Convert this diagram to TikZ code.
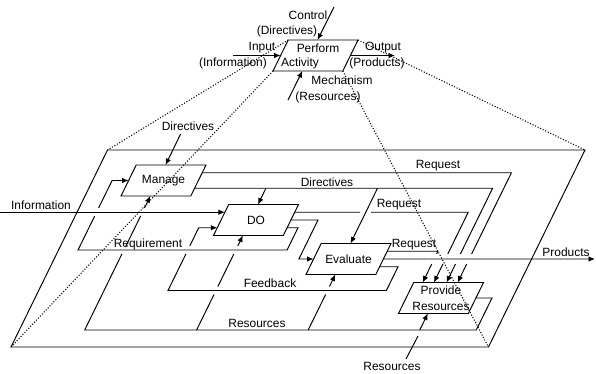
\documentclass[tikz,border=0pt]{standalone}
\usepackage{fontspec}
\setmainfont{Liberation Sans}
\usetikzlibrary{arrows.meta, calc}

% slanted activity box: name, x, y, width, height, text
\newcommand{\actbox}[6]{%
  \node[inner sep=0pt, align=center] (#1) at (#2,#3) {#6};
  \coordinate (#1-tl) at ({#2-#4/2+0.49*#5},{#3-#5/2});
  \coordinate (#1-tr) at ({#2+#4/2},{#3-#5/2});
  \coordinate (#1-br) at ({#2+#4/2-0.49*#5},{#3+#5/2});
  \coordinate (#1-bl) at ({#2-#4/2},{#3+#5/2});
  \draw (#1-tl) -- (#1-tr) -- (#1-br) -- (#1-bl) -- cycle;
}

\begin{document}
\begin{tikzpicture}[
    x=0.02cm, y=-0.02cm,
    font=\fontsize{6.8}{8}\selectfont,
    line width=0.55pt,
    lbl/.style={inner sep=0pt},
    arr/.style={-{Latex[length=1.3mm, width=1.1mm]}},
    dots/.style={densely dotted, line width=0.6pt}
  ]
  \useasboundingbox (0,0) rectangle (596,373);

  % the activity on top and the frame it opens into
  \actbox{perform}{315.5}{55.5}{85}{31}{}
  \actbox{frame}{298}{248.5}{574}{197}{}

  % the four activities
  \actbox{manage}{163.5}{180.5}{85}{31}{Manage}
  \actbox{do}{256}{220}{85}{31}{DO}
  \actbox{evaluate}{348.5}{259}{85}{31}{Evaluate}
  \actbox{provide}{441}{298}{85}{31}{Provide\\[1pt]Resources}

  % ports on the sides of the boxes
  \foreach \n in {perform, manage, do, evaluate, provide} {
    \coordinate (\n-t) at ($(\n-tl)!.42!(\n-tr)$);
    \coordinate (\n-b) at ($(\n-bl)!.42!(\n-br)$);
    \coordinate (\n-l1) at ($(\n-tl)!.25!(\n-bl)$);
    \coordinate (\n-l2) at ($(\n-tl)!.5!(\n-bl)$);
    \coordinate (\n-l3) at ($(\n-tl)!.75!(\n-bl)$);
    \coordinate (\n-r1) at ($(\n-tr)!.25!(\n-br)$);
    \coordinate (\n-r2) at ($(\n-tr)!.5!(\n-br)$);
    \coordinate (\n-r3) at ($(\n-tr)!.75!(\n-br)$);
  }
  \foreach \f [count=\i] in {.13, .29, .47, .63}
    \coordinate (provide-in\i) at ($(provide-tl)!\f!(provide-tr)$);

  % top activity
  \node[lbl] (lperform) at (318,48) {Perform};
  \node[lbl] (lactivity) at (300,63) {Activity};
  \node[lbl] (lcontrol) at (308,15) {Control};
  \node[lbl] (lcontrol2) at (287,31) {(Directives)};
  \node[lbl] (linput) at (262,48) {Input};
  \node[lbl] (linput2) at (233,63) {(Information)};
  \node[lbl] (loutput) at (383,48) {Output};
  \node[lbl] (loutput2) at (377,63) {(Products)};
  \node[lbl] (lmech) at (342,80) {Mechanism};
  \node[lbl] (lmech2) at (328,97) {(Resources)};
  \draw[arr] (334,7) -- (perform-t);
  \draw[arr] (233,55.5) -- (perform-l2);
  \draw[arr] (perform-r2) -- (395,55.5);
  \draw[arr] (288,100) -- (perform-b);

  % inputs from outside
  \node[lbl] (ldir) at (188,126) {Directives};
  \node[lbl] (linfo) at (41,205) {Information};
  \draw[arr] (180.6,134) -- (manage-t);
  \draw[arr] (do-l1 -| 0,0) -- (do-l1);

  % directives from manage
  \node[lbl] (ldir2) at (327,182) {Directives};
  \draw (manage-r3) -- (492.6,188.25) -- (460.4,254);
  \draw[arr] (455.5,264) -- (provide-in3);
  \draw[arr] (265.9,188.25) -- (do-t);
  \draw[arr] (377.5,188.25) -- (evaluate-t);

  % requests
  \node[lbl] (lreq1) at (438,166) {Request};
  \node[lbl] (lreq2) at (399,205) {Request};
  \node[lbl] (lreq3) at (414,245) {Request};
  \draw (manage-r1) -- (511.4,172.75) -- (471.6,254);
  \draw[arr] (466.7,264) -- (provide-in4);
  \draw (do-r1) -- (360,212.25);
  \draw (371,212.25) -- (468.2,212.25) -- (447.8,254);
  \draw[arr] (442.9,264) -- (provide-in2);
  \draw (evaluate-r1) -- (437.9,251.25) -- (436.6,254);
  \draw[arr] (431.7,264) -- (provide-in1);

  % do -> evaluate -> products
  \draw[arr] (do-r2) -- (318,220) -- (298.9,259) -- (evaluate-l2);
  \node[lbl] (lprod) at (566,252) {Products};
  \draw[arr] (evaluate-r2) -- (595,259);

  % requirement loop
  \node[lbl] (lreqm) at (148,244) {Requirement};
  \draw (do-r3) -- (298,227.75) -- (287.1,250) -- (78,250) -- (94.7,216);
  \draw[arr] (98.6,208) -- (112.1,180.5) -- (manage-l2);

  % feedback loop
  \node[lbl] (lfeed) at (270,283) {Feedback};
  \draw (evaluate-r3) -- (398,266.75) -- (386.4,290.5) -- (168,290.5) -- (185.9,254);
  \draw[arr] (189.8,246) -- (198.7,227.75) -- (do-l3);

  % resources loop
  \node[lbl] (lres) at (257,323) {Resources};
  \draw (provide-r2) -- (492,298) -- (476.3,330) -- (84.7,330) -- (121.9,254);
  \draw (125.9,246) -- (140.6,216);
  \draw[arr] (144.5,208) -- (manage-b);
  \draw (196.6,330) -- (214,294.5);
  \draw (217.9,286.5) -- (233.8,254);
  \draw[arr] (237.8,246) -- (do-b);
  \draw (308.2,330) -- (325.6,294.5);
  \draw[arr] (329.5,286.5) -- (evaluate-b);
  \draw[arr] (419.8,330) -- (provide-b);

  % resources from outside
  \node[lbl] (lres2) at (392,366) {Resources};
  \draw (406,359) -- (418,336);

  % zoom lines
  \foreach \c in {tl, tr, bl, br}
    \draw[dots] (perform-\c) -- (frame-\c);
\end{tikzpicture}
\end{document}
